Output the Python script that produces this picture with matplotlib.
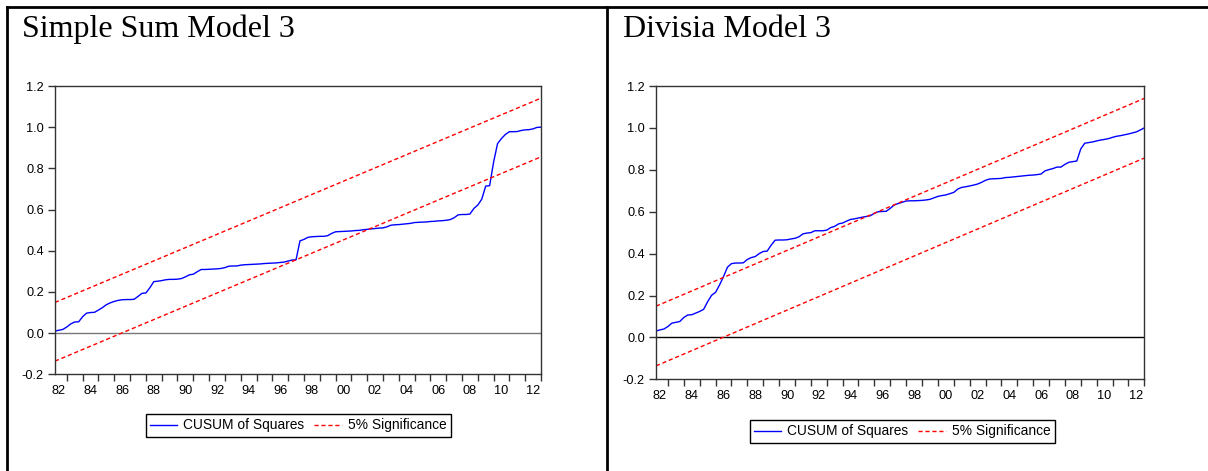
import numpy as np
import matplotlib
matplotlib.use("Agg")
from matplotlib import pyplot as plt
from matplotlib.lines import Line2D

# quarterly CUSUM of squares, first obs 1982.25, step 0.25 year
start_year = 1982.25
simple_sum = [
    0.010, 0.014, 0.018,                      # 1982
    0.030, 0.045, 0.054, 0.055,               # 1983
    0.080, 0.097, 0.100, 0.101,               # 1984
    0.112, 0.124, 0.138, 0.147,               # 1985
    0.154, 0.159, 0.162, 0.163,               # 1986
    0.163, 0.164, 0.178, 0.193,               # 1987
    0.195, 0.220, 0.250, 0.252,               # 1988
    0.255, 0.259, 0.261, 0.261,               # 1989
    0.262, 0.265, 0.273, 0.283,               # 1990
    0.286, 0.298, 0.309, 0.309,               # 1991
    0.310, 0.311, 0.312, 0.314,               # 1992
    0.318, 0.325, 0.326, 0.326,               # 1993
    0.330, 0.332, 0.333, 0.334,               # 1994
    0.335, 0.336, 0.338, 0.339,               # 1995
    0.340, 0.341, 0.343, 0.345,               # 1996
    0.350, 0.355, 0.356, 0.448,               # 1997
    0.455, 0.465, 0.468, 0.469,               # 1998
    0.470, 0.470, 0.473, 0.484,               # 1999
    0.492, 0.493, 0.494, 0.495,               # 2000
    0.496, 0.498, 0.499, 0.502,               # 2001
    0.504, 0.506, 0.508, 0.510,               # 2002
    0.511, 0.516, 0.524, 0.526,               # 2003
    0.527, 0.529, 0.531, 0.533,               # 2004
    0.537, 0.538, 0.539, 0.540,               # 2005
    0.542, 0.543, 0.545, 0.546,               # 2006
    0.548, 0.551, 0.560, 0.574,               # 2007
    0.576, 0.576, 0.578, 0.605,               # 2008
    0.622, 0.650, 0.714, 0.716,               # 2009
    0.830, 0.920, 0.945, 0.965,               # 2010
    0.978, 0.978, 0.979, 0.984,               # 2011
    0.987, 0.988, 0.992, 0.999,               # 2012
    1.000,                                    # 2013
]
divisia = [
    0.030, 0.036, 0.040,                      # 1982
    0.052, 0.068, 0.072, 0.076,               # 1983
    0.095, 0.107, 0.108, 0.116,               # 1984
    0.124, 0.134, 0.170, 0.201,               # 1985
    0.215, 0.250, 0.290, 0.335,               # 1986
    0.352, 0.355, 0.355, 0.356,               # 1987
    0.372, 0.381, 0.386, 0.400,               # 1988
    0.410, 0.412, 0.440, 0.464,               # 1989
    0.465, 0.465, 0.466, 0.470,               # 1990
    0.473, 0.480, 0.494, 0.498,               # 1991
    0.500, 0.509, 0.509, 0.509,               # 1992
    0.512, 0.524, 0.530, 0.542,               # 1993
    0.546, 0.555, 0.563, 0.566,               # 1994
    0.570, 0.574, 0.577, 0.581,               # 1995
    0.592, 0.600, 0.601, 0.602,               # 1996
    0.616, 0.632, 0.639, 0.645,               # 1997
    0.651, 0.652, 0.652, 0.653,               # 1998
    0.654, 0.656, 0.659, 0.666,               # 1999
    0.673, 0.677, 0.680, 0.686,               # 2000
    0.692, 0.708, 0.716, 0.719,               # 2001
    0.723, 0.727, 0.732, 0.740,               # 2002
    0.750, 0.756, 0.757, 0.758,               # 2003
    0.759, 0.763, 0.764, 0.766,               # 2004
    0.768, 0.770, 0.772, 0.774,               # 2005
    0.775, 0.777, 0.780, 0.795,               # 2006
    0.801, 0.806, 0.813, 0.813,               # 2007
    0.826, 0.836, 0.839, 0.842,               # 2008
    0.900, 0.927, 0.930, 0.933,               # 2009
    0.938, 0.942, 0.945, 0.949,               # 2010
    0.955, 0.960, 0.963, 0.967,               # 2011
    0.971, 0.976, 0.981, 0.990,               # 2012
    1.000,                                    # 2013
]
# 5% significance bounds at first and last observation
sig_lower = [-0.136, 0.856]
sig_upper = [0.149, 1.141]

titles = ["Simple Sum Model 3", "Divisia Model 3"]
year_labels = ["%02d" % (y % 100) for y in range(1982, 2013, 2)]

W, H = 1208, 471
fig = plt.figure(figsize=(W / 100, H / 100), dpi=100)


def px_box(x0, y0, x1, y1):
    return [x0 / W, 1 - y1 / H, (x1 - x0) / W, (y1 - y0) / H]


def draw_panel(rect, values, zero_color):
    ax = fig.add_axes(rect)
    t = start_year + 0.25 * np.arange(len(values))
    ax.plot(t, values, color="#0000ff", lw=1.0, label="CUSUM of Squares")
    ends = [t[0], t[-1]]
    ax.plot(ends, sig_upper, color="red", lw=1.0, ls=(0, (3, 2)),
            label="5% Significance")
    ax.plot(ends, sig_lower, color="red", lw=1.0, ls=(0, (3, 2)))
    ax.axhline(0, color=zero_color, lw=1.0, zorder=1)
    ax.set_xlim(t[0], t[-1])
    ax.set_ylim(-0.2, 1.2)
    ax.set_yticks(np.arange(-0.2, 1.21, 0.2))
    ax.set_yticklabels(["%.1f" % v for v in np.arange(-0.2, 1.21, 0.2)])
    ax.set_xticks(np.arange(1983, 2014), labels=[""] * 31)
    ax.set_xticks(np.arange(1982.5, 2013, 2), labels=year_labels, minor=True)
    ax.tick_params(axis="both", which="major", length=5, width=1,
                   color="#333333", labelsize=9.2, pad=3)
    ax.tick_params(axis="x", which="minor", length=0, labelsize=9.2, pad=7.5)
    for s in ax.spines.values():
        s.set_color("#333333")
        s.set_linewidth(1.0)
    return ax


plt.rcParams["font.family"] = ["Liberation Sans", "DejaVu Sans"]

ax1 = draw_panel(px_box(55, 86, 541, 374.3), simple_sum, "#777777")
ax2 = draw_panel(px_box(656, 86, 1144.3, 379.3), divisia, "black")

for ax, cx, cy in [(ax1, 298, 425.5), (ax2, 902, 431.5)]:
    leg = fig.legend(*ax.get_legend_handles_labels(), loc="center",
                     bbox_to_anchor=(cx / W, 1 - cy / H), ncol=2,
                     fontsize=9.9, frameon=True, fancybox=False,
                     framealpha=1, edgecolor="black", handlelength=2.0,
                     handletextpad=0.45, columnspacing=0.7, borderpad=0.3)
    leg.get_frame().set_linewidth(1.0)

fig.text(22 / W, 1 - 37 / H, titles[0], fontsize=23,
         family="Liberation Serif", va="baseline", ha="left")
fig.text(623 / W, 1 - 37 / H, titles[1], fontsize=23,
         family="Liberation Serif", va="baseline", ha="left")

# table cell borders
for xs, ys in [([7, 7], [7, H]), ([607, 607], [7, H]), ([7, W], [7, 7])]:
    fig.add_artist(Line2D([x / W for x in xs], [1 - y / H for y in ys],
                          color="black", lw=2))

fig.savefig("out.png", dpi=100)
